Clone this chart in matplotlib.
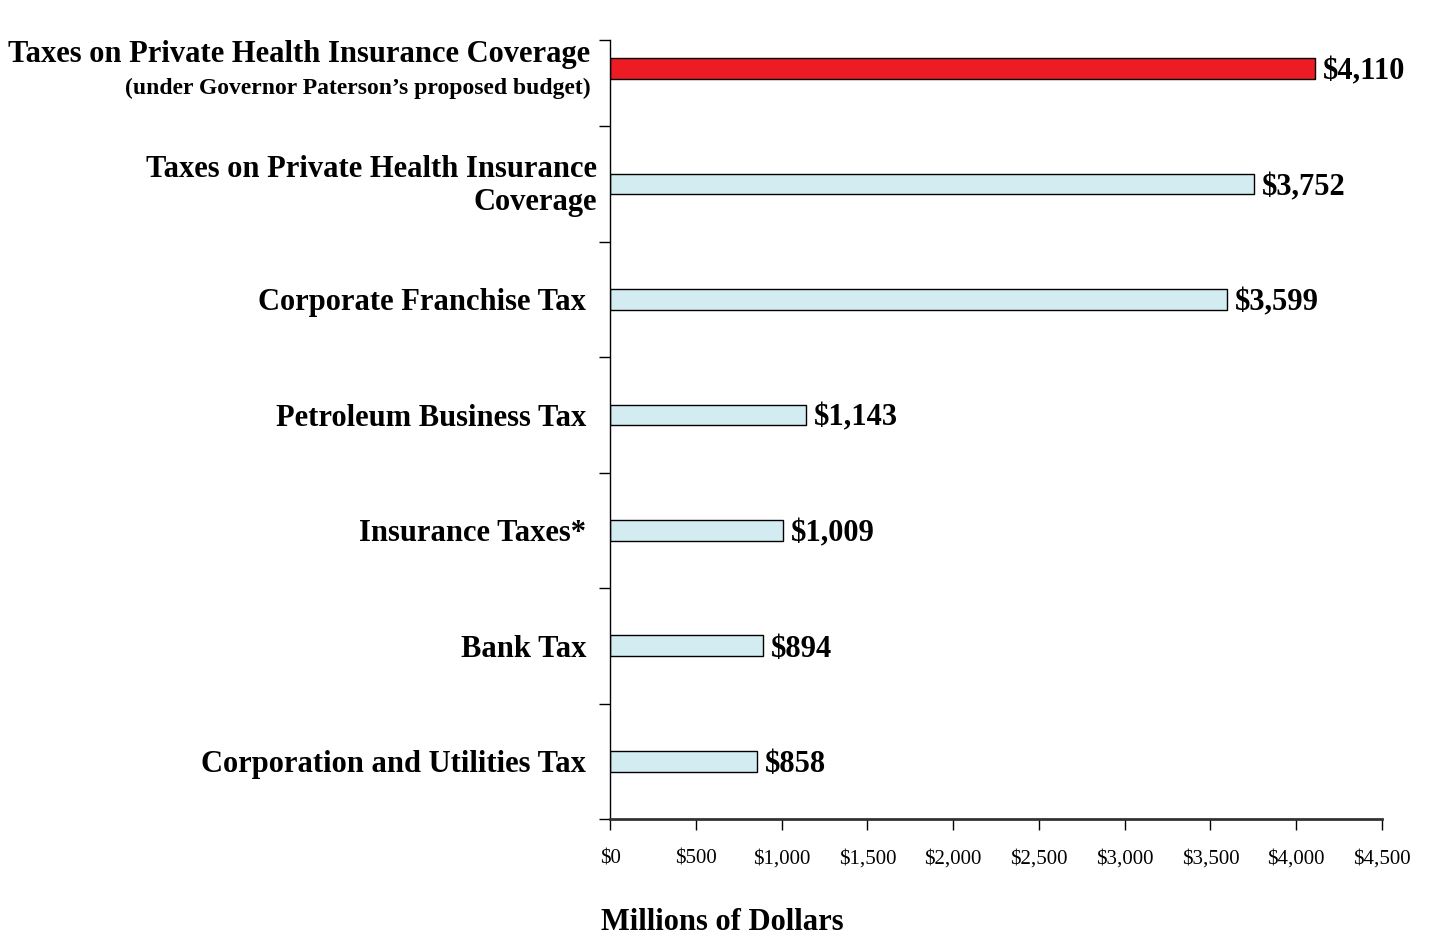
import matplotlib
matplotlib.use("Agg")
import matplotlib.pyplot as plt

categories = [
    "Corporation and Utilities Tax",
    "Bank Tax",
    "Insurance Taxes*",
    "Petroleum Business Tax",
    "Corporate Franchise Tax",
    "Taxes on Private Health Insurance\nCoverage",
    "Taxes on Private Health Insurance Coverage",
]
values = [858, 894, 1009, 1143, 3599, 3752, 4110]
subtitle = "(under Governor Paterson\u2019s proposed budget)"
xticks = [0, 500, 1000, 1500, 2000, 2500, 3000, 3500, 4000, 4500]

plt.rcParams['font.family'] = ['Liberation Serif', 'DejaVu Serif']

fig = plt.figure(figsize=(14.29, 9.35), dpi=100)
ax = fig.add_axes([0.4269, 0.124, 0.5402, 0.833])

pos = list(range(len(values)))
colors = ['#D3ECF2'] * (len(values) - 1) + ['#ED1C24']
ax.barh(pos, values, height=0.18, color=colors, edgecolor='black', linewidth=1)

# value labels, nudged down a touch to sit on the bar centre
for p, v in zip(pos, values):
    ax.text(v + 45, p - 0.03, "${:,}".format(v), va='center', ha='left',
            fontsize=22, fontweight='bold')

# category labels
for p, c in zip(pos[:-2], categories[:-2]):
    ax.text(-140, p - 0.03, c, va='center', ha='right', fontsize=22,
            fontweight='bold')
ax.text(-75, 5 - 0.02, categories[-2], va='center', ha='right', fontsize=22,
        fontweight='bold', linespacing=1.2)
ax.text(-115, 6.12, categories[-1], va='center', ha='right', fontsize=22,
        fontweight='bold')
ax.text(-115, 5.83, subtitle, va='center', ha='right', fontsize=17,
        fontweight='bold')

ax.set_xlim(0, 4500)
ax.set_ylim(-0.5, 6.245)
ax.set_xticks(xticks)
ax.set_xticklabels(["${:,}".format(t) for t in xticks], fontsize=15)
ax.set_yticks([-0.5, 0.5, 1.5, 2.5, 3.5, 4.5, 5.5, 6.245])
ax.set_yticklabels([])
ax.tick_params(axis='x', direction='out', length=8, width=1, pad=14)
ax.tick_params(axis='y', direction='out', length=8, width=1)

for s in ['top', 'right']:
    ax.spines[s].set_visible(False)
ax.spines['left'].set_linewidth(1)
ax.spines['bottom'].set_linewidth(2)
ax.spines['bottom'].set_color('#333333')

fig.text(722 / 1429, 1 - 922 / 935, "Millions of Dollars", ha='center',
         va='center', fontsize=22, fontweight='bold')

fig.savefig("out.png", dpi=100)
